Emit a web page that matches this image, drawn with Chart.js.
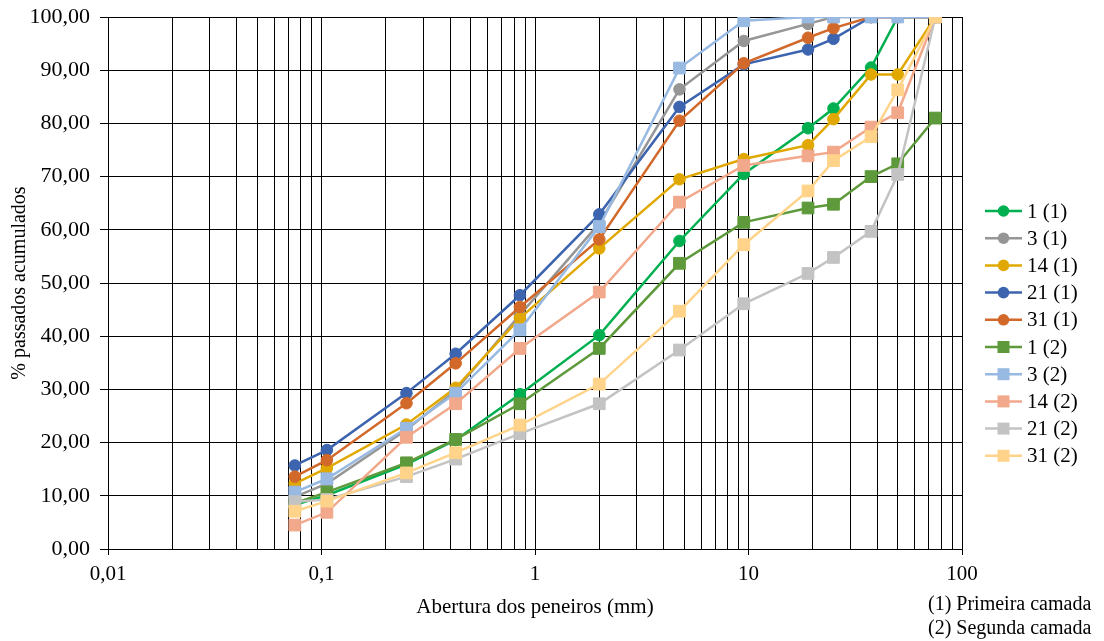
<!DOCTYPE html>
<html>
<head>
<meta charset="utf-8">
<script src="https://cdn.jsdelivr.net/npm/chart.js@4.4.0/dist/chart.umd.min.js"></script>
<style>
  body { margin: 0; background: #fff; }
  canvas { display: block; }
</style>
</head>
<body>
<canvas id="granulometria" width="1104" height="641"></canvas>
<script>
// abertura das peneiras (mm)
const sieves = [0.075, 0.106, 0.25, 0.425, 0.85, 2, 4.75, 9.5, 19, 25, 37.5, 50, 75];

// % passados acumulados - primeira camada
const s1_1  = [8.3, 10.1, 15.9, 20.5, 29.1, 40.2, 57.9, 70.5, 79.1, 82.8, 90.5, 100, 100];
const s3_1  = [9.8, 12.3, 22.4, 29.8, 44.0, 61.2, 86.4, 95.5, 98.7, 100, 100, 100, 100];
const s14_1 = [12.3, 15.2, 23.4, 30.3, 43.4, 56.5, 69.5, 73.3, 75.9, 80.8, 89.2, 89.2, 100];
const s21_1 = [15.7, 18.6, 29.3, 36.7, 47.7, 62.9, 83.1, 91.1, 93.9, 95.9, 100, 100, 100];
const s31_1 = [13.6, 16.7, 27.4, 34.9, 45.5, 58.2, 80.5, 91.3, 96.1, 97.9, 100, 100, 100];

// % passados acumulados - segunda camada
const s1_2  = [8.6, 10.7, 16.2, 20.6, 27.3, 37.7, 53.7, 61.4, 64.1, 64.8, 70.0, 72.4, 81.0];
const s3_2  = [10.7, 13.2, 22.7, 29.3, 41.2, 60.6, 90.4, 99.3, 100, 100, 100, 100, 100];
const s14_2 = [4.5, 6.9, 21.0, 27.3, 37.7, 48.3, 65.2, 72.1, 73.9, 74.6, 79.3, 82.0, 100];
const s21_2 = [8.9, 9.3, 13.6, 16.9, 21.7, 27.3, 37.4, 46.1, 51.8, 54.8, 59.7, 70.4, 100];
const s31_2 = [7.1, 9.0, 14.3, 18.1, 23.3, 31.0, 44.7, 57.2, 67.3, 73.0, 77.5, 86.3, 100];

const seriesNames = ['1 (1)', '3 (1)', '14 (1)', '21 (1)', '31 (1)',
                     '1 (2)', '3 (2)', '14 (2)', '21 (2)', '31 (2)'];
const seriesValues = [s1_1, s3_1, s14_1, s21_1, s31_1, s1_2, s3_2, s14_2, s21_2, s31_2];
const seriesColors = ['#00b050', '#969696', '#e0a800', '#3d64ae', '#d2692a',
                      '#5e9a3b', '#98b9e1', '#f1a88b', '#c3c3c3', '#ffd48a'];

const xMajorTicks = [0.01, 0.1, 1, 10, 100];
const xTickLabels = ['0,01', '0,1', '1', '10', '100'];
const yTickLabels = ['0,00', '10,00', '20,00', '30,00', '40,00', '50,00',
                     '60,00', '70,00', '80,00', '90,00', '100,00'];

const FONT = '"Liberation Serif", "Times New Roman", serif';

const datasets = seriesNames.map((name, i) => ({
  label: name,
  data: sieves.map((s, j) => ({ x: s, y: seriesValues[i][j] })),
  borderColor: seriesColors[i],
  backgroundColor: seriesColors[i],
  pointBackgroundColor: seriesColors[i],
  pointBorderColor: seriesColors[i],
  pointStyle: i < 5 ? 'circle' : 'rect',
  pointRadius: i < 5 ? 5.8 : 8.3,
  pointBorderWidth: 1,
  borderWidth: 2.5,
  tension: 0,
  order: 20 - i   // later series on top, like the original
}));

// legend at the right side, plus the footnote
const sideLegend = {
  id: 'sideLegend',
  afterDraw(chart) {
    const ctx = chart.ctx;
    ctx.save();
    ctx.font = '21px ' + FONT;
    ctx.textBaseline = 'middle';
    ctx.textAlign = 'left';
    datasets.forEach((ds, i) => {
      const y = 211 + i * 27.2;
      ctx.strokeStyle = ds.borderColor;
      ctx.lineWidth = 2.5;
      ctx.beginPath();
      ctx.moveTo(985, y);
      ctx.lineTo(1022, y);
      ctx.stroke();
      ctx.fillStyle = ds.borderColor;
      if (ds.pointStyle === 'circle') {
        ctx.beginPath();
        ctx.arc(1003.5, y, 5.8, 0, Math.PI * 2);
        ctx.fill();
      } else {
        ctx.fillRect(1003.5 - 6, y - 6, 12, 12);
      }
      ctx.fillStyle = '#000';
      ctx.fillText(ds.label, 1027, y + 1);
    });
    ctx.font = '20px ' + FONT;
    ctx.fillText('(1) Primeira camada', 928, 605);
    ctx.fillText('(2) Segunda camada', 928, 629);
    ctx.restore();
  }
};

const config = {
  type: 'line',
  data: { datasets: datasets },
  options: {
    responsive: false,
    animation: false,
    layout: { padding: { left: 0, right: 142, top: 17, bottom: 21 } },
    plugins: {
      legend: { display: false },
      tooltip: { enabled: false }
    },
    scales: {
      x: {
        type: 'logarithmic',
        min: 0.01,
        max: 100,
        afterBuildTicks: (scale) => {
          const ticks = [];
          xMajorTicks.forEach((m, k) => {
            if (k === xMajorTicks.length - 1) {
              ticks.push({ value: m, major: true });
              return;
            }
            for (let n = 1; n < 10; n++) {
              ticks.push({ value: +(m * n).toPrecision(6), major: n === 1 });
            }
          });
          scale.ticks = ticks;
        },
        afterFit: (scale) => {
          scale.height = 71;
          scale.paddingLeft = 0;
          scale.paddingRight = 0;
        },
        ticks: {
          autoSkip: false,
          maxRotation: 0,
          color: '#000',
          font: { family: FONT, size: 21 },
          padding: 7,
          callback: (value) => {
            const k = xMajorTicks.indexOf(value);
            return k >= 0 ? xTickLabels[k] : '';
          }
        },
        grid: {
          color: '#000',
          lineWidth: 1,
          tickLength: 6,
          tickColor: (c) => (c.tick && c.tick.major ? '#000' : 'rgba(0,0,0,0)')
        },
        border: { color: '#000', width: 1 },
        title: {
          display: true,
          text: 'Abertura dos peneiros (mm)',
          color: '#000',
          font: { family: FONT, size: 21 },
          padding: { top: 0, bottom: 0 }
        }
      },
      y: {
        min: 0,
        max: 100,
        afterFit: (scale) => {
          scale.width = 108;
          scale.paddingTop = 0;
          scale.paddingBottom = 0;
        },
        ticks: {
          stepSize: 10,
          color: '#000',
          font: { family: FONT, size: 22 },
          padding: 10,
          callback: (value) => yTickLabels[Math.round(value / 10)]
        },
        grid: { color: '#000', lineWidth: 1, tickLength: 8 },
        border: { color: '#000', width: 1 },
        title: {
          display: true,
          text: '% passados acumulados',
          color: '#000',
          font: { family: FONT, size: 20, lineHeight: 1 },
          padding: { top: 10, bottom: 0 }
        }
      }
    }
  },
  plugins: [sideLegend]
};

var chartGranulo = new Chart(document.getElementById('granulometria'), config);
</script>
</body>
</html>
